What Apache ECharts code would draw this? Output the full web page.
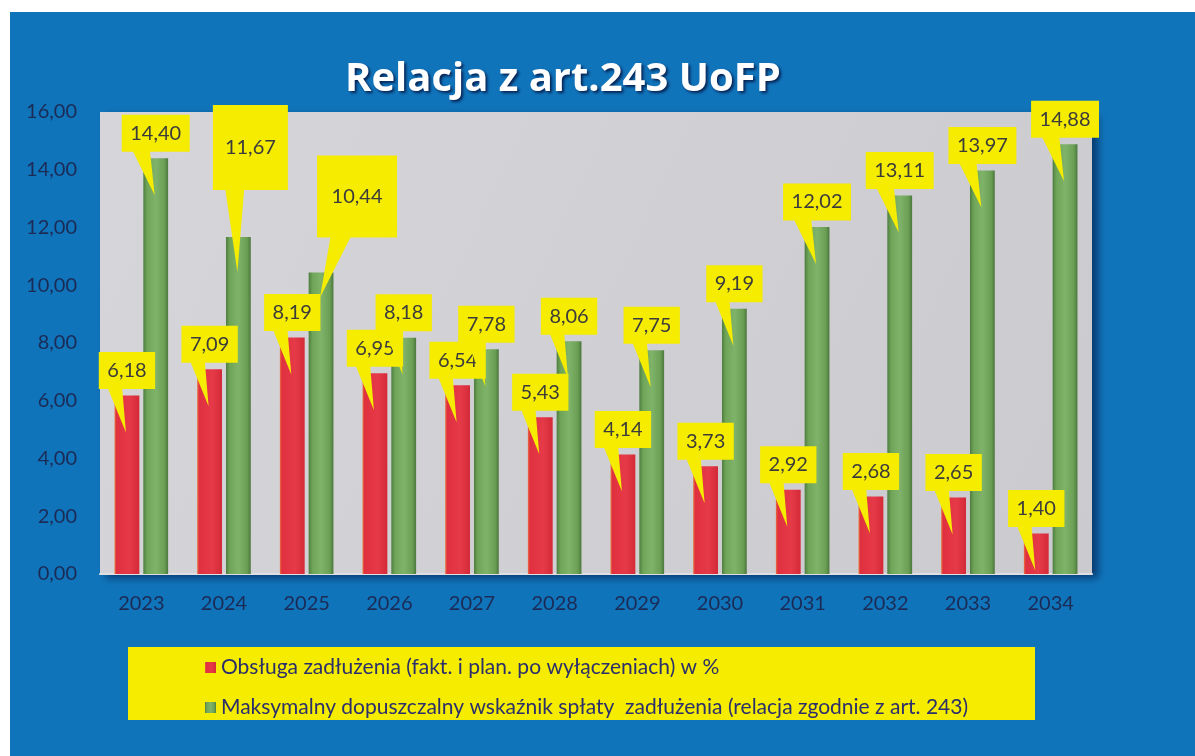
<!DOCTYPE html>
<html>
<head>
<meta charset="utf-8">
<script src="https://cdn.jsdelivr.net/npm/echarts@6/dist/echarts.min.js"></script>
<style>
  html, body { margin: 0; padding: 0; background: #fff; }
  #chart { width: 1195px; height: 756px; }
</style>
</head>
<body>
<div id="chart"></div>
<script>
const years = ['2023', '2024', '2025', '2026', '2027', '2028', '2029', '2030', '2031', '2032', '2033', '2034']
const debtService = [6.18, 7.09, 8.19, 6.95, 6.54, 5.43, 4.14, 3.73, 2.92, 2.68, 2.65, 1.40]
const maxRatio = [14.40, 11.67, 10.44, 8.18, 7.78, 8.06, 7.75, 9.19, 12.02, 13.11, 13.97, 14.88]
const yTicks = [0, 2, 4, 6, 8, 10, 12, 14, 16]

const nameRed = 'Obsługa zadłużenia (fakt. i plan. po wyłączeniach) w %'
const nameGreen = 'Maksymalny dopuszczalny wskaźnik spłaty  zadłużenia (relacja zgodnie z art. 243)'

// bar geometry (fraction of category width)
const BAR_FRAC = 0.30
const GAP_FRAC = 0.16

// callouts that Excel placed by hand
const greenOverrides = {
  1: { w: 75, h: 85, dx: 12, lift: 47, tip: 35 },
  2: { w: 80, h: 82, dx: 36, lift: 35, tip: 25 }
}

const fmt = v => v.toFixed(2).replace('.', ',')
const LABEL_FONT = '20px Lato'
const ctx = document.createElement('canvas').getContext('2d')
const measure = t => { ctx.font = LABEL_FONT; return ctx.measureText(t).width }

function callout(side, overrides) {
  return function (params, api) {
    const idx = api.value(0)
    const val = api.value(1)
    const pt = api.coord([idx, val])
    const catW = api.size([1, 0])[0]
    const bw = catW * BAR_FRAC
    const barX = pt[0] + side * (bw / 2 + bw * GAP_FRAC / 2)
    const o = overrides[idx] || {}
    const txt = fmt(val)
    const w = o.w || measure(txt) + 17
    const h = o.h || 37
    const cx = barX + (o.dx || 0)
    const bottom = pt[1] - (o.lift || 6.5)
    const top = bottom - h
    const left = cx - w / 2
    const tipX = barX - 1
    const tipY = pt[1] + (o.tip || 37)
    return {
      type: 'group',
      children: [
        {
          type: 'polygon',
          shape: {
            points: [
              [left, top], [left + w, top], [left + w, bottom],
              [left + w * 5 / 12, bottom], [tipX, tipY],
              [left + w * 2 / 12, bottom], [left, bottom]
            ]
          },
          style: { fill: '#f5ec00' }
        },
        {
          type: 'text',
          x: cx,
          y: top + h / 2,
          style: {
            text: txt,
            font: LABEL_FONT,
            fill: '#3b3b3b',
            align: 'center',
            verticalAlign: 'middle'
          }
        }
      ]
    }
  }
}

const chart = echarts.init(document.getElementById('chart'))

const redColor = {
  type: 'linear', x: 0, y: 0, x2: 1, y2: 0,
  colorStops: [
    { offset: 0, color: '#e8703a' },
    { offset: 0.08, color: '#e0303f' },
    { offset: 0.6, color: '#e63a48' },
    { offset: 1, color: '#d42a38' }
  ]
}
const greenColor = {
  type: 'linear', x: 0, y: 0, x2: 1, y2: 0,
  colorStops: [
    { offset: 0, color: '#4f7d40' },
    { offset: 0.15, color: '#6ea458' },
    { offset: 0.5, color: '#80b36a' },
    { offset: 0.85, color: '#6a9f54' },
    { offset: 1, color: '#4c783d' }
  ]
}

const option = {
  backgroundColor: '#ffffff',
  animation: false,
  graphic: [
    { type: 'rect', z: -10, shape: { x: 10, y: 12, width: 1185, height: 744 }, style: { fill: '#1074ba' } },
    { type: 'rect', z: -5, shape: { x: 128, y: 647, width: 907, height: 73 }, style: { fill: '#f5ec00' } }
  ],
  title: {
    text: 'Relacja z art.243 UoFP',
    left: 340,
    top: 55,
    textStyle: {
      color: '#ffffff',
      fontFamily: 'Open Sans',
      fontWeight: 'bold',
      fontSize: 40,
      textShadowColor: 'rgba(0,0,40,0.7)',
      textShadowBlur: 3,
      textShadowOffsetX: 2,
      textShadowOffsetY: 2
    }
  },
  legend: {
    data: [nameRed, nameGreen],
    orient: 'vertical',
    left: 200,
    top: 652,
    itemWidth: 11,
    itemHeight: 11,
    itemGap: 19,
    icon: 'rect',
    textStyle: { fontFamily: 'Lato', fontSize: 21, color: '#2b2f6b' }
  },
  grid: {
    left: 100,
    right: 103,
    top: 112,
    bottom: 182,
    show: true,
    borderWidth: 0,
    backgroundColor: {
      type: 'linear', x: 0, y: 0, x2: 1, y2: 1,
      colorStops: [
        { offset: 0, color: '#d6d6da' },
        { offset: 1, color: '#cacacf' }
      ]
    },
    shadowColor: 'rgba(0,10,50,0.55)',
    shadowBlur: 8,
    shadowOffsetX: 6,
    shadowOffsetY: 4
  },
  xAxis: {
    type: 'category',
    data: years,
    axisLine: { lineStyle: { color: '#e0e0e4', width: 2 } },
    axisTick: { show: false },
    axisLabel: { margin: 20, fontFamily: 'Lato', fontSize: 20, color: '#1b2b55' }
  },
  yAxis: {
    type: 'value',
    min: yTicks[0],
    max: yTicks[yTicks.length - 1],
    interval: yTicks[1] - yTicks[0],
    splitLine: { show: false },
    axisLine: { show: false },
    axisTick: { show: false },
    axisLabel: {
      margin: 23,
      fontFamily: 'Lato',
      fontSize: 20,
      color: '#1b2b55',
      formatter: v => fmt(v)
    }
  },
  series: [
    {
      name: nameRed,
      type: 'bar',
      data: debtService,
      barWidth: (BAR_FRAC * 100) + '%',
      barGap: (GAP_FRAC * 100) + '%',
      itemStyle: { color: redColor }
    },
    {
      name: nameGreen,
      type: 'bar',
      data: maxRatio,
      barWidth: (BAR_FRAC * 100) + '%',
      barGap: (GAP_FRAC * 100) + '%',
      itemStyle: { color: greenColor }
    },
    {
      name: 'labelsRed',
      type: 'custom',
      z: 5,
      clip: false,
      renderItem: callout(-1, {}),
      data: debtService.map((v, i) => [i, v])
    },
    {
      name: 'labelsGreen',
      type: 'custom',
      z: 6,
      clip: false,
      renderItem: callout(1, greenOverrides),
      data: maxRatio.map((v, i) => [i, v])
    }
  ]
}

chart.setOption(option)
</script>
</body>
</html>
